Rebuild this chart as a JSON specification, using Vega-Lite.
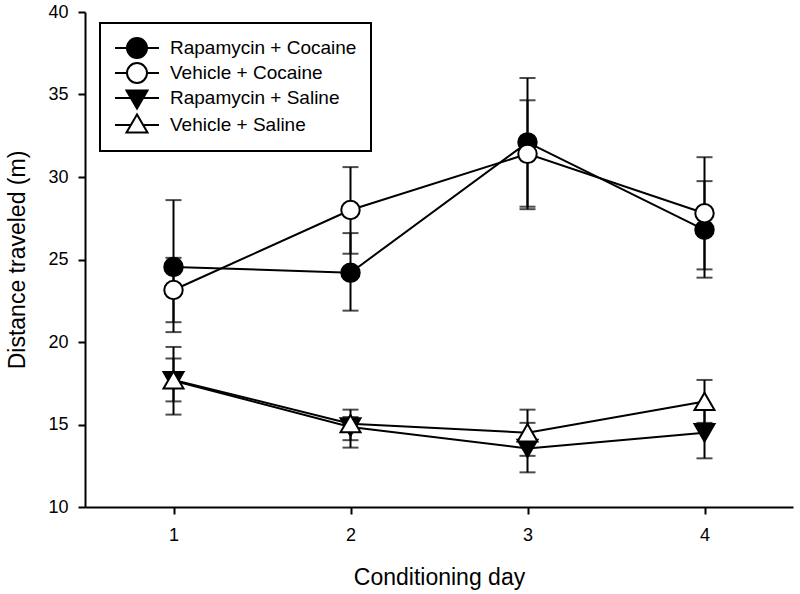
{
  "$schema": "https://vega.github.io/schema/vega-lite/v6.json",
  "width": 708,
  "height": 495,
  "autosize": {"type": "none"},
  "padding": {"left": 85, "top": 12, "right": 7, "bottom": 87},
  "background": "white",
  "config": {
    "view": {"stroke": null},
    "font": "Liberation Sans",
    "axis": {
      "grid": false,
      "domainColor": "black",
      "domainWidth": 2,
      "tickColor": "black",
      "tickWidth": 2,
      "tickSize": 7,
      "labelFontSize": 18,
      "labelColor": "black",
      "titleFontSize": 23,
      "titleFontWeight": "normal",
      "titleColor": "black"
    },
    "legend": {
      "labelLimit": 400
    }
  },
  "data": {
    "values": [
      {"group": "Rapamycin + Cocaine", "day": 1, "value": 24.55, "lo": 20.6, "hi": 28.6},
      {"group": "Rapamycin + Cocaine", "day": 2, "value": 24.2, "lo": 21.9, "hi": 26.6},
      {"group": "Rapamycin + Cocaine", "day": 3, "value": 32.1, "lo": 28.2, "hi": 36.0},
      {"group": "Rapamycin + Cocaine", "day": 4, "value": 26.8, "lo": 23.9, "hi": 29.75},
      {"group": "Vehicle + Cocaine", "day": 1, "value": 23.15, "lo": 21.2, "hi": 25.1},
      {"group": "Vehicle + Cocaine", "day": 2, "value": 28.0, "lo": 25.35, "hi": 30.6},
      {"group": "Vehicle + Cocaine", "day": 3, "value": 31.4, "lo": 28.05, "hi": 34.65},
      {"group": "Vehicle + Cocaine", "day": 4, "value": 27.8, "lo": 24.4, "hi": 31.2},
      {"group": "Rapamycin + Saline", "day": 1, "value": 17.65, "lo": 15.6, "hi": 19.7},
      {"group": "Rapamycin + Saline", "day": 2, "value": 14.85, "lo": 13.6, "hi": 15.9},
      {"group": "Rapamycin + Saline", "day": 3, "value": 13.55, "lo": 12.1, "hi": 15.1},
      {"group": "Rapamycin + Saline", "day": 4, "value": 14.5, "lo": 12.95, "hi": 16.05},
      {"group": "Vehicle + Saline", "day": 1, "value": 17.7, "lo": 16.4, "hi": 19.0},
      {"group": "Vehicle + Saline", "day": 2, "value": 15.05, "lo": 14.05, "hi": 15.45},
      {"group": "Vehicle + Saline", "day": 3, "value": 14.5, "lo": 13.1, "hi": 15.9},
      {"group": "Vehicle + Saline", "day": 4, "value": 16.4, "lo": 15.1, "hi": 17.7}
    ]
  },
  "encoding": {
    "x": {
      "field": "day",
      "type": "quantitative",
      "scale": {"domain": [0.5, 4.5], "nice": false, "zero": false},
      "axis": {"values": [1, 2, 3, 4], "format": "d", "title": "Conditioning day", "labelPadding": 12, "titlePadding": 22}
    }
  },
  "layer": [
    {
      "mark": {"type": "line", "color": "black", "strokeWidth": 2},
      "encoding": {
        "y": {
          "field": "value",
          "type": "quantitative",
          "scale": {"domain": [10, 40], "nice": false, "zero": false},
          "axis": {"values": [10, 15, 20, 25, 30, 35, 40], "title": "Distance traveled (m)", "labelPadding": 10, "titlePadding": 18}
        },
        "detail": {"field": "group"}
      }
    },
    {
      "mark": {"type": "rule", "color": "black", "strokeWidth": 2},
      "encoding": {
        "y": {"field": "lo", "type": "quantitative"},
        "y2": {"field": "hi"}
      }
    },
    {
      "mark": {"type": "tick", "orient": "horizontal", "color": "black", "size": 16, "thickness": 2},
      "encoding": {"y": {"field": "lo", "type": "quantitative"}}
    },
    {
      "mark": {"type": "tick", "orient": "horizontal", "color": "black", "size": 16, "thickness": 2},
      "encoding": {"y": {"field": "hi", "type": "quantitative"}}
    },
    {
      "mark": {"type": "point", "stroke": "black", "strokeWidth": 2, "opacity": 1, "size": 340},
      "encoding": {
        "y": {"field": "value", "type": "quantitative"},
        "shape": {
          "condition": [
            {"test": "indexof(datum.group, 'Cocaine') >= 0", "value": "circle"},
            {"test": "datum.group == 'Rapamycin + Saline'", "value": "triangle-down"}
          ],
          "value": "triangle-up"
        },
        "fill": {
          "condition": {"test": "indexof(datum.group, 'Rapamycin') == 0", "value": "black"},
          "value": "white"
        },
        "size": {
          "condition": {"test": "indexof(datum.group, 'Saline') >= 0", "value": 400},
          "value": 340
        }
      }
    },
    {
      "transform": [{"filter": "false"}],
      "mark": {"type": "point", "color": "black", "stroke": "black", "strokeWidth": 2, "opacity": 1, "size": 400},
      "encoding": {
        "y": {"field": "value", "type": "quantitative"},
        "shape": {
          "field": "group",
          "type": "nominal",
          "scale": {
            "domain": ["Rapamycin + Cocaine", "Vehicle + Cocaine", "Rapamycin + Saline", "Vehicle + Saline"],
            "range": [
              "M-2.2,0H-1M1,0H2.2M1,0A1,1,0,1,1,-1,0A1,1,0,1,1,1,0Z",
              "M-2.2,0H-1M1,0H2.2M1,0A1,1,0,1,1,-1,0A1,1,0,1,1,1,0Z",
              "M-2.2,0H-0.61M0.61,0H2.2M-1.05,-0.75L1.05,-0.75L0,1.05Z",
              "M-2.2,0H-0.61M0.61,0H2.2M-1.05,0.75L1.05,0.75L0,-1.05Z"
            ]
          },
          "legend": {
            "title": null,
            "orient": "none",
            "legendX": 15,
            "legendY": 11,
            "labelFontSize": 19,
            "labelColor": "black",
            "labelLimit": 400,
            "symbolSize": 400,
            "symbolStrokeWidth": 2,
            "symbolStrokeColor": "black",
            "symbolOpacity": 1,
            "strokeColor": "black",
            "fillColor": "white",
            "padding": 14,
            "labelOffset": 22,
            "rowPadding": -3,
            "symbolOffset": 12,
            "encode": {
              "symbols": {"update": {"stroke": {"value": "black"}, "strokeWidth": {"value": 2}}},
              "legend": {"update": {"strokeWidth": {"value": 2}}}
            }
          }
        },
        "fill": {
          "field": "group",
          "type": "nominal",
          "scale": {
            "domain": ["Rapamycin + Cocaine", "Vehicle + Cocaine", "Rapamycin + Saline", "Vehicle + Saline"],
            "range": ["black", "white", "black", "white"]
          },
          "legend": {
            "title": null,
            "orient": "none",
            "legendX": 15,
            "legendY": 11,
            "labelFontSize": 19,
            "labelColor": "black",
            "labelLimit": 400,
            "symbolSize": 400,
            "symbolStrokeWidth": 2,
            "symbolStrokeColor": "black",
            "symbolOpacity": 1,
            "strokeColor": "black",
            "fillColor": "white",
            "padding": 14,
            "labelOffset": 22,
            "rowPadding": -3,
            "symbolOffset": 12,
            "encode": {
              "symbols": {"update": {"stroke": {"value": "black"}, "strokeWidth": {"value": 2}}},
              "legend": {"update": {"strokeWidth": {"value": 2}}}
            }
          }
        }
      }
    }
  ]
}
